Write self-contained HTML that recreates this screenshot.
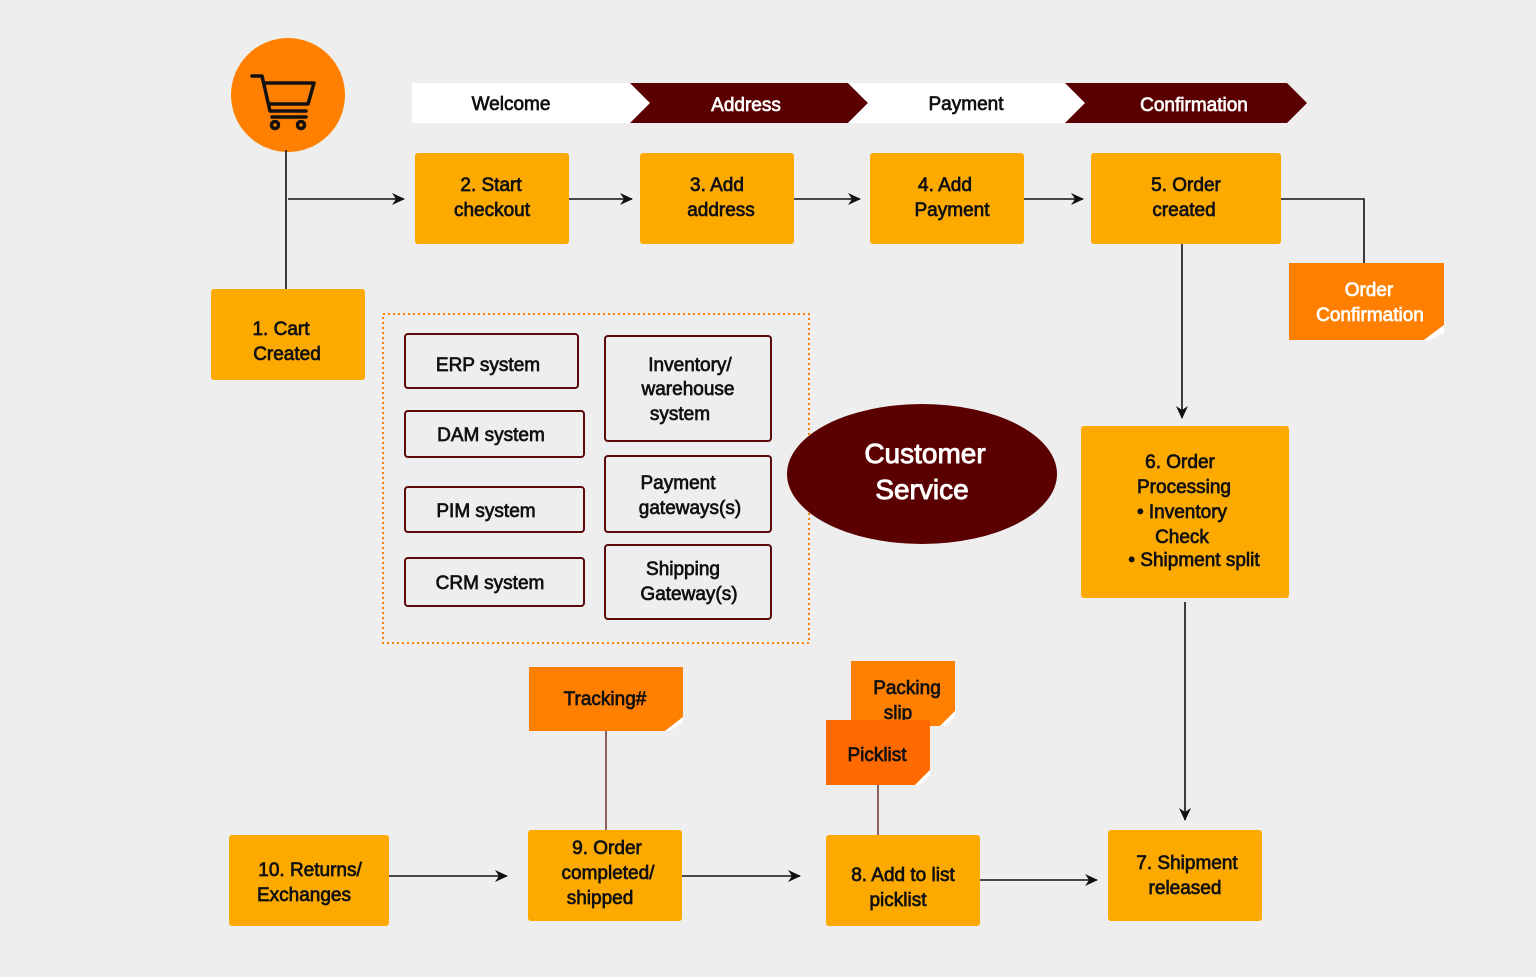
<!DOCTYPE html>
<html><head><style>
html,body{margin:0;padding:0;background:#eeeeee;}
svg{display:block}
text{font-family:"Liberation Sans",sans-serif;font-size:19px;fill:#111;stroke:#111;stroke-width:0.7;text-anchor:middle}
.w{fill:#fff;stroke:#fff}
.box{fill:#fdaa00}
.sys{fill:none;stroke:#5a0a0a;stroke-width:2}
.ln{stroke:#111;stroke-width:1.6;fill:none}
</style></head><body>
<svg width="1536" height="977" viewBox="0 0 1536 977" xmlns="http://www.w3.org/2000/svg">
<defs><marker id="a" markerWidth="13" markerHeight="12" refX="12" refY="6" orient="auto" markerUnits="userSpaceOnUse"><path d="M0,0 L13,6 L0,12 L4,6 Z" fill="#111"/></marker></defs>
<rect width="1536" height="977" fill="#eeeeee"/>
<circle cx="288" cy="95" r="57" fill="#ff8000"/>
<g fill="none" stroke="#111" stroke-width="3.5" stroke-linejoin="round" stroke-linecap="round">
<path d="M252,76 L262,76 L270,111 L306,111"/>
<path d="M264,83 L314,83 L308,104 L269,104"/>
<circle cx="275" cy="125" r="3.5"/><circle cx="301" cy="125" r="3.5"/>
<path d="M272,117 L306,117"/>
</g>
<polygon points="412,83 630,83 650,103 630,123 412,123" fill="#fff"/>
<polygon points="630,83 848,83 868,103 848,123 630,123 650,103" fill="#5a0000"/>
<polygon points="848,83 1065,83 1085,103 1065,123 848,123 868,103" fill="#fff"/>
<polygon points="1065,83 1287,83 1307,103 1287,123 1065,123 1085,103" fill="#5a0000"/>
<text x="511" y="110">Welcome</text>
<text x="746" y="111" class="w">Address</text>
<text x="966" y="110">Payment</text>
<text x="1194" y="111" class="w">Confirmation</text>
<path class="ln" d="M286,150 V289"/>
<path class="ln" d="M288,199 H404" marker-end="url(#a)"/>
<path class="ln" d="M569,199 H632" marker-end="url(#a)"/>
<path class="ln" d="M794,199 H860" marker-end="url(#a)"/>
<path class="ln" d="M1024,199 H1083" marker-end="url(#a)"/>
<path class="ln" d="M1281,199 H1364 V263"/>
<path class="ln" d="M1182,244 V418" marker-end="url(#a)"/>
<path class="ln" d="M1185,602 V820" marker-end="url(#a)"/>
<path class="ln" d="M980,880 H1097" marker-end="url(#a)"/>
<path class="ln" d="M682,876 H800" marker-end="url(#a)"/>
<path class="ln" d="M389,876 H507" marker-end="url(#a)"/>
<path d="M606,731 V830" stroke="#7a3a3a" stroke-width="1.6"/>
<path d="M878,785 V835" stroke="#7a3a3a" stroke-width="1.6"/>
<rect class="box" x="415" y="153" width="154" height="91" rx="3"/>
<text x="491" y="191">2. Start</text><text x="492" y="216">checkout</text>
<rect class="box" x="640" y="153" width="154" height="91" rx="3"/>
<text x="717" y="191">3. Add</text><text x="721" y="216">address</text>
<rect class="box" x="870" y="153" width="154" height="91" rx="3"/>
<text x="945" y="191">4. Add</text><text x="952" y="216">Payment</text>
<rect class="box" x="1091" y="153" width="190" height="91" rx="3"/>
<text x="1186" y="191">5. Order</text><text x="1184" y="216">created</text>
<rect class="box" x="211" y="289" width="154" height="91" rx="3"/>
<text x="281" y="335">1. Cart</text><text x="287" y="360">Created</text>
<rect class="box" x="1081" y="426" width="208" height="172" rx="3"/>
<text x="1180" y="468">6. Order</text><text x="1184" y="493">Processing</text>
<text x="1182" y="518">• Inventory</text><text x="1182" y="543">Check</text>
<text x="1194" y="566">• Shipment split</text>
<rect class="box" x="1108" y="830" width="154" height="91" rx="3"/>
<text x="1187" y="869">7. Shipment</text><text x="1185" y="894">released</text>
<rect class="box" x="826" y="835" width="154" height="91" rx="3"/>
<text x="903" y="881">8. Add to list</text><text x="898" y="906">picklist</text>
<rect class="box" x="528" y="830" width="154" height="91" rx="3"/>
<text x="607" y="854">9. Order</text><text x="608" y="879">completed/</text><text x="600" y="904">shipped</text>
<rect class="box" x="229" y="835" width="160" height="91" rx="3"/>
<text x="310" y="876">10. Returns/</text><text x="304" y="901">Exchanges</text>
<polygon points="1289,263 1444,263 1444,325 1424,340 1289,340" fill="#ff8000"/>
<polygon points="1424,340 1444,325 1444,333 1430,340" fill="#fff"/>
<text x="1369" y="296" class="w">Order</text><text x="1370" y="321" class="w">Confirmation</text>
<polygon points="529,667 683,667 683,717 665,731 529,731" fill="#ff8000"/>
<polygon points="665,731 683,717 683,722 670,731" fill="#fff"/>
<text x="605" y="705">Tracking#</text>
<polygon points="851,661 955,661 955,711 940,726 851,726" fill="#ff8000"/>
<polygon points="940,726 955,711 955,716 945,726" fill="#fff"/>
<text x="907" y="694">Packing</text><text x="898" y="719">slip</text>
<polygon points="826,720 930,720 930,770 915,785 826,785" fill="#ff6a00"/>
<polygon points="915,785 930,770 930,775 920,785" fill="#fff"/>
<text x="877" y="761">Picklist</text>
<rect x="383" y="314" width="426" height="329" fill="none" stroke="#ff8000" stroke-width="2" stroke-dasharray="2,3"/>
<rect class="sys" x="405" y="334" width="173" height="54" rx="3"/><text x="488" y="371">ERP system</text>
<rect class="sys" x="405" y="411" width="179" height="46" rx="3"/><text x="491" y="441">DAM system</text>
<rect class="sys" x="405" y="487" width="179" height="45" rx="3"/><text x="486" y="517">PIM system</text>
<rect class="sys" x="405" y="558" width="179" height="48" rx="3"/><text x="490" y="589">CRM system</text>
<rect class="sys" x="605" y="336" width="166" height="105" rx="3"/>
<text x="690" y="371">Inventory/</text><text x="688" y="395">warehouse</text><text x="680" y="420">system</text>
<rect class="sys" x="605" y="456" width="166" height="76" rx="3"/>
<text x="678" y="489">Payment</text><text x="690" y="514">gateways(s)</text>
<rect class="sys" x="605" y="545" width="166" height="74" rx="3"/>
<text x="683" y="575">Shipping</text><text x="689" y="600">Gateway(s)</text>
<ellipse cx="922" cy="474" rx="135" ry="70" fill="#5a0000"/>
<text x="925" y="463" class="w" style="font-size:28px;stroke-width:0.9">Customer</text>
<text x="922" y="499" class="w" style="font-size:28px;stroke-width:0.9">Service</text>
</svg>
</body></html>
